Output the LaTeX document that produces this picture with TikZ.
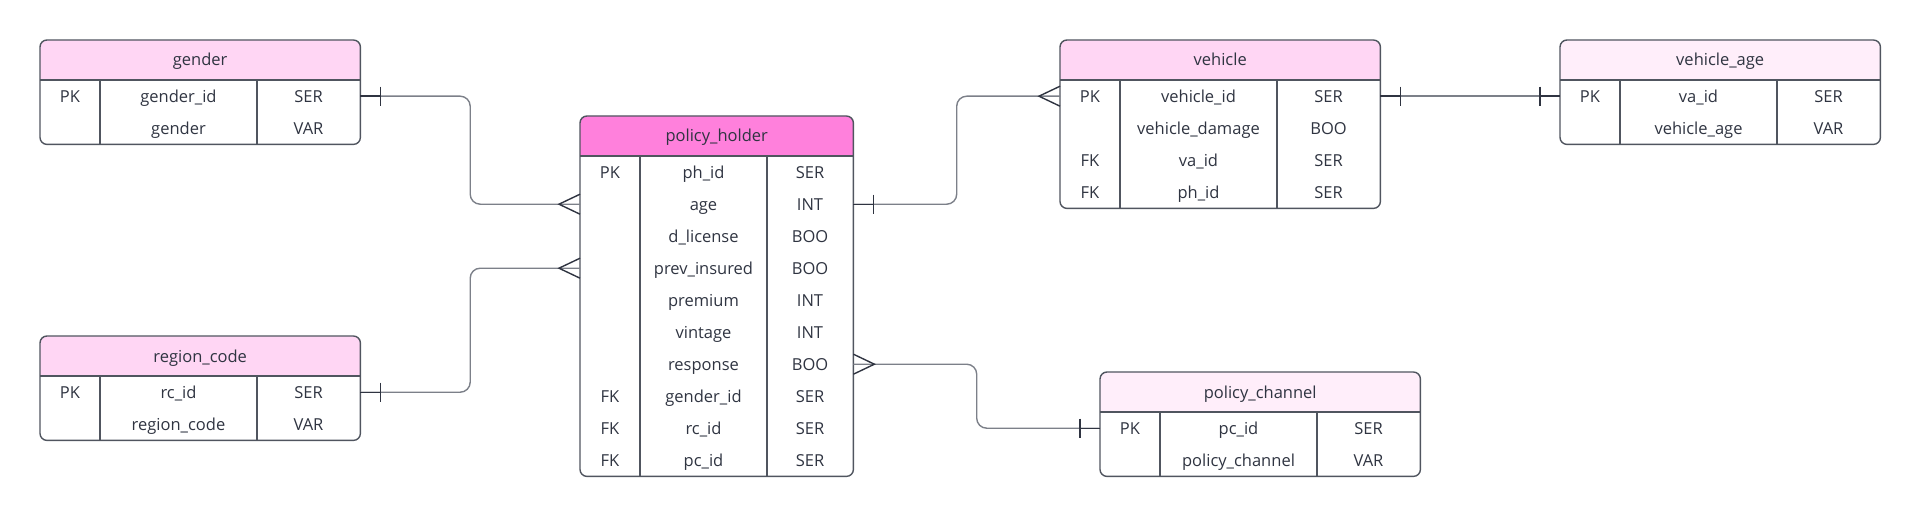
\documentclass[tikz,border=0pt]{standalone}
\usepackage{fontspec}
\setmainfont{Open Sans}
\usetikzlibrary{calc}

\definecolor{hotpink}{HTML}{FF80DC}
\definecolor{softpink}{HTML}{FFD6F4}
\definecolor{palepink}{HTML}{FFEEFA}
\definecolor{frame}{HTML}{50555F}
\definecolor{ink}{HTML}{2F3441}
\definecolor{wire}{HTML}{7C8089}

\begin{document}
\begin{tikzpicture}[x=1pt, y=-1pt,
    cell/.style={text=ink, font=\fontsize{16.5}{19}\selectfont, inner sep=0pt,
                 text height=12pt, text depth=0pt},
    slot/.style={minimum height=32pt, inner sep=0pt},
    rule/.style={draw=frame, line width=1.4pt},
    wire/.style={draw=wire, line width=1.4pt, rounded corners=10pt},
    bar/.style={draw=ink, line width=1.4pt}]
    \useasboundingbox (0,0) rectangle (1920,516);

    % Taules: nom / esquerra / dalt / amplada / columna 2 / columna 3 / files / color / títol
    \foreach \id/\lx/\ty/\w/\ca/\cb/\n/\col/\title in {
        gender/40/40/320/60/217/2/softpink/gender,
        region/40/336/320/60/217/2/softpink/region\_code,
        ph/580/116/273/60/187/10/hotpink/policy\_holder,
        vehicle/1060/40/320/60/217/4/softpink/vehicle,
        vage/1560/40/320/60/217/2/palepink/vehicle\_age,
        channel/1100/372/320/60/217/2/palepink/policy\_channel}
    {
        \node[anchor=north west, inner sep=0pt, minimum width=\w pt,
              minimum height={40+32*\n}] (\id) at (\lx,\ty) {};
        % capçalera
        \fill[\col, rounded corners=7pt] (\id.north west) rectangle ([yshift=-40pt]\id.north east);
        \fill[\col] ([yshift=-20pt]\id.north west) rectangle ([yshift=-40pt]\id.north east);
        \node[cell] (\id-title) at ([yshift=-20pt]\id.north) {\title};
        % vores i columnes
        \draw[rule, rounded corners=7pt] (\id.north west) rectangle (\id.south east);
        \draw[rule] ([yshift=-40pt]\id.north west) -- ([yshift=-40pt]\id.north east);
        \draw[rule] ([xshift=\ca pt, yshift=-40pt]\id.north west) -- ([xshift=\ca pt]\id.south west);
        \draw[rule] ([xshift=\cb pt, yshift=-40pt]\id.north west) -- ([xshift=\cb pt]\id.south west);
        % centres de columna i files
        \coordinate (\id-k) at ([xshift={\ca/2}]\id.west);
        \coordinate (\id-f) at ([xshift={(\ca+\cb)/2}]\id.west);
        \coordinate (\id-t) at ([xshift={(\cb+\w)/2}]\id.west);
        \foreach \r in {1,...,\n}
            \node[slot, anchor=north west, minimum width=\w pt] (\id-\r)
                at ([yshift={-8-32*\r}]\id.north west) {};
    }

    % Camps: taula / fila / clau / camp / tipus
    \foreach \id/\r/\k/\f/\t in {
        gender/1/PK/gender\_id/SER, gender/2//gender/VAR,
        region/1/PK/rc\_id/SER, region/2//region\_code/VAR,
        ph/1/PK/ph\_id/SER, ph/2//age/INT, ph/3//d\_license/BOO,
        ph/4//prev\_insured/BOO, ph/5//premium/INT, ph/6//vintage/INT,
        ph/7//response/BOO, ph/8/FK/gender\_id/SER, ph/9/FK/rc\_id/SER,
        ph/10/FK/pc\_id/SER,
        vehicle/1/PK/vehicle\_id/SER, vehicle/2//vehicle\_damage/BOO,
        vehicle/3/FK/va\_id/SER, vehicle/4/FK/ph\_id/SER,
        vage/1/PK/va\_id/SER, vage/2//vehicle\_age/VAR,
        channel/1/PK/pc\_id/SER, channel/2//policy\_channel/VAR}
    {
        \node[cell] (\id-\r-k) at (\id-\r -| \id-k) {\k};
        \node[cell] (\id-\r-f) at (\id-\r -| \id-f) {\f};
        \node[cell] (\id-\r-t) at (\id-\r -| \id-t) {\t};
    }

    % Relacions
    \draw[wire] (gender-1.east) -| ($(gender-1.east)!.5!(ph-2.west)$) |- (ph-2.west);
    \draw[wire] (region-1.east) -| ($(region-1.east)!.5!(ph-4.west)$) |- (ph-4.west);
    \draw[wire] (ph-2.east) -| ($(ph-2.east)!.5!(vehicle-1.west)$) |- (vehicle-1.west);
    \draw[wire] (ph-7.east) -| ($(ph-7.east)!.5!(channel-1.west)$) |- (channel-1.west);
    \draw[wire] (vehicle-1.east) -- (vage-1.west);

    % Un (barra)
    \foreach \e/\s in {gender-1.east/20, region-1.east/20, ph-2.east/20,
                       vehicle-1.east/20, vage-1.west/-20, channel-1.west/-20}
    {
        \draw[bar] (\e) -- ([xshift=\s pt]\e);
        \draw[bar] ([xshift=\s pt, yshift=9.5pt]\e) -- ([xshift=\s pt, yshift=-9.5pt]\e);
    }

    % Molts (pota de gall)
    \foreach \e/\s in {ph-2.west/-21, ph-4.west/-21, vehicle-1.west/-21, ph-7.east/21}
        \draw[bar] ([yshift=10pt]\e) -- ([xshift=\s pt]\e) -- ([yshift=-10pt]\e);
\end{tikzpicture}
\end{document}
